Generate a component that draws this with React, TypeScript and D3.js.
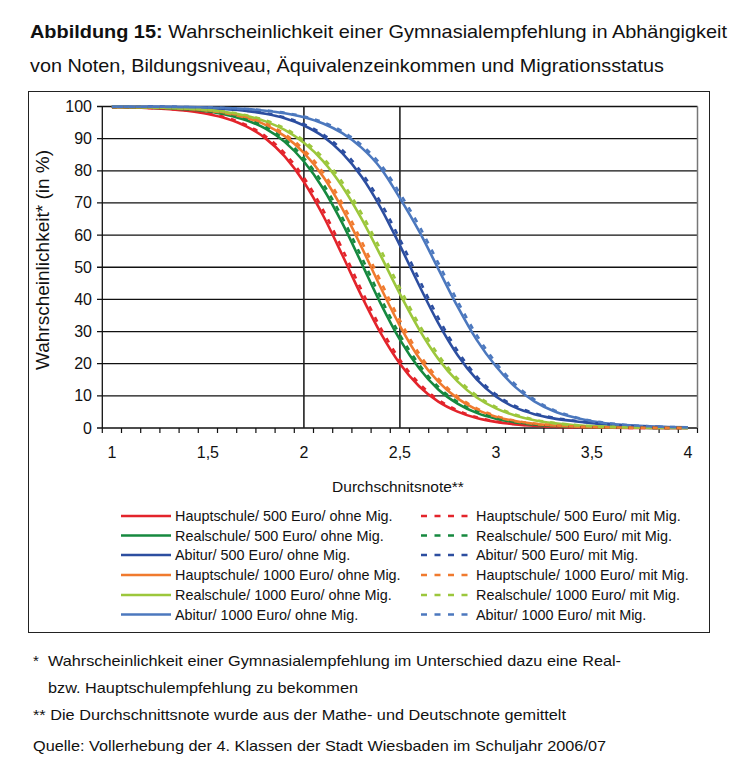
import React from 'react';
import * as d3 from 'd3';

const grades = [1.0, 1.1, 1.2, 1.3, 1.4, 1.5, 1.6, 1.7, 1.8, 1.9, 2.0, 2.1, 2.2, 2.3, 2.4, 2.5, 2.6, 2.7, 2.8, 2.9, 3.0, 3.1, 3.2, 3.3, 3.4, 3.5, 3.6, 3.7, 3.8, 3.9, 4.0];

const hs500Ohne = [99.82, 99.7, 99.49, 99.16, 98.61, 97.69, 96.2, 93.82, 90.09, 84.46, 76.5, 66.1, 53.8, 41.1, 29.5, 20.0, 13.0, 8.2, 5.1, 3.1, 1.9, 1.14, 0.69, 0.41, 0.25, 0.15, 0.09, 0.05, 0.03, 0.02, 0.01];
const rs500Ohne = [99.87, 99.79, 99.65, 99.42, 99.05, 98.42, 97.39, 95.73, 93.09, 89.0, 82.9, 74.5, 63.7, 51.3, 38.7, 27.5, 18.6, 12.0, 7.6, 4.7, 2.9, 1.75, 1.06, 0.64, 0.38, 0.23, 0.14, 0.08, 0.05, 0.03, 0.02];
const ab500Ohne = [99.96, 99.93, 99.89, 99.81, 99.69, 99.49, 99.16, 98.63, 97.76, 96.36, 94.1, 90.7, 85.5, 78.2, 68.5, 56.8, 44.4, 32.6, 22.7, 15.1, 9.8, 6.4, 4.3, 3.0, 2.2, 1.5, 1.0, 0.6, 0.4, 0.2, 0.1];
const hs1000Ohne = [99.9, 99.83, 99.72, 99.53, 99.22, 98.71, 97.87, 96.5, 94.3, 90.8, 85.6, 78.2, 68.2, 56.3, 43.7, 31.8, 21.8, 14.4, 9.2, 5.7, 3.5, 2.14, 1.29, 0.78, 0.47, 0.28, 0.17, 0.1, 0.06, 0.04, 0.02];
const rs1000Ohne = [99.9, 99.83, 99.73, 99.56, 99.29, 98.86, 98.17, 97.08, 95.37, 92.71, 88.7, 83.0, 75.1, 65.1, 53.6, 41.7, 30.7, 21.5, 14.5, 9.5, 6.1, 3.9, 2.42, 1.51, 0.94, 0.58, 0.36, 0.22, 0.14, 0.09, 0.05];
const ab1000Ohne = [99.97, 99.95, 99.93, 99.88, 99.81, 99.69, 99.49, 99.18, 98.69, 97.9, 96.65, 94.7, 91.7, 87.2, 80.8, 71.5, 61.2, 49.5, 37.8, 27.4, 19.2, 12.8, 8.3, 5.3, 3.4, 2.1, 1.31, 0.82, 0.5, 0.31, 0.19];

const hs500Mit = [99.83, 99.72, 99.53, 99.22, 98.71, 97.86, 96.47, 94.25, 90.76, 85.44, 77.85, 67.8, 55.7, 42.9, 31.1, 21.2, 13.9, 8.8, 5.46, 3.33, 2.04, 1.23, 0.74, 0.44, 0.27, 0.16, 0.1, 0.05, 0.03, 0.02, 0.01];
const rs500Mit = [99.88, 99.81, 99.68, 99.46, 99.12, 98.54, 97.58, 96.04, 93.57, 89.73, 83.96, 75.92, 65.43, 53.2, 40.5, 28.95, 19.74, 12.79, 8.13, 5.04, 3.11, 1.88, 1.14, 0.69, 0.41, 0.25, 0.15, 0.09, 0.05, 0.03, 0.02];
const ab500Mit = [99.96, 99.94, 99.9, 99.83, 99.71, 99.53, 99.22, 98.73, 97.92, 96.62, 94.5, 91.33, 86.43, 79.48, 70.12, 58.67, 46.26, 34.25, 24.02, 16.06, 10.46, 6.84, 4.6, 3.2, 2.35, 1.6, 1.07, 0.65, 0.43, 0.22, 0.11];
const hs1000Mit = [99.91, 99.84, 99.74, 99.57, 99.28, 98.81, 98.03, 96.75, 94.7, 91.43, 86.52, 79.48, 69.83, 58.14, 45.55, 33.45, 23.1, 15.34, 9.84, 6.11, 3.76, 2.3, 1.39, 0.84, 0.51, 0.3, 0.18, 0.11, 0.06, 0.04, 0.02];
const rs1000Mit = [99.91, 99.84, 99.75, 99.59, 99.34, 98.94, 98.3, 97.28, 95.69, 93.2, 89.42, 84.02, 76.45, 66.74, 55.4, 43.5, 32.23, 22.74, 15.4, 10.12, 6.51, 4.17, 2.59, 1.62, 1.0, 0.62, 0.38, 0.24, 0.15, 0.1, 0.05];
const ab1000Mit = [99.97, 99.95, 99.93, 99.89, 99.82, 99.71, 99.53, 99.24, 98.78, 98.05, 96.88, 95.07, 92.25, 88.0, 81.92, 73.0, 62.9, 51.3, 39.5, 28.9, 20.3, 13.6, 8.85, 5.65, 3.63, 2.24, 1.4, 0.88, 0.53, 0.33, 0.2];

const leftLabels = [
  'Hauptschule/ 500 Euro/ ohne Mig.',
  'Realschule/ 500 Euro/ ohne Mig.',
  'Abitur/ 500 Euro/ ohne Mig.',
  'Hauptschule/ 1000 Euro/ ohne Mig.',
  'Realschule/ 1000 Euro/ ohne Mig.',
  'Abitur/ 1000 Euro/ ohne Mig.',
];
const rightLabels = [
  'Hauptschule/ 500 Euro/ mit Mig.',
  'Realschule/ 500 Euro/ mit Mig.',
  'Abitur/ 500 Euro/ mit Mig.',
  'Hauptschule/ 1000 Euro/ mit Mig.',
  'Realschule/ 1000 Euro/ mit Mig.',
  'Abitur/ 1000 Euro/ mit Mig.',
];
const colors = ['#e3242b', '#16893f', '#2c4ea0', '#f07a2e', '#9cc73c', '#4c78be'];

const ohneSeries = [hs500Ohne, rs500Ohne, ab500Ohne, hs1000Ohne, rs1000Ohne, ab1000Ohne];
const mitSeries = [hs500Mit, rs500Mit, ab500Mit, hs1000Mit, rs1000Mit, ab1000Mit];

const xTickValues = [1, 1.5, 2, 2.5, 3, 3.5, 4];
const yTickValues = [0, 10, 20, 30, 40, 50, 60, 70, 80, 90, 100];
const refLines = [2, 2.5];

const FONT = '"Liberation Sans", Arial, Helvetica, sans-serif';

export default function App() {
  const x = d3.scaleLinear().domain([0.95, 4.05]).range([102.3, 697.5]);
  const y = d3.scaleLinear().domain([0, 100]).range([428, 106.5]);
  const line = d3
    .line<number>()
    .x((_, i) => x(grades[i]))
    .y((d) => y(d))
    .curve(d3.curveMonotoneX);
  const minorTicks = d3.range(0, 32).map((i) => 0.95 + i * 0.1);
  const fmt = (v: number) => String(v).replace('.', ',');
  const legendY = [516, 535.5, 555, 575, 595, 614.5];

  return (
    <svg
      width={742}
      height={763}
      style={{ position: 'absolute', left: 0, top: 0, background: '#fff' }}
      fontFamily={FONT}
    >
      <rect x={0} y={0} width={742} height={763} fill="#fff" />
      {/* Title */}
      <text x={30} y={38} fontSize={18.5} fill="#111" textLength={697} lengthAdjust="spacingAndGlyphs">
        <tspan fontWeight="bold">Abbildung 15:</tspan>
        <tspan> Wahrscheinlichkeit einer Gymnasialempfehlung in Abhängigkeit</tspan>
      </text>
      <text x={30} y={72} fontSize={18.5} fill="#111" textLength={634} lengthAdjust="spacingAndGlyphs">
        von Noten, Bildungsniveau, Äquivalenzeinkommen und Migrationsstatus
      </text>

      {/* Outer frame */}
      <rect x={28.5} y={91.5} width={681} height={541} fill="none" stroke="#222" strokeWidth={1} />

      {/* Gridlines */}
      {yTickValues.map((v) => (
        <line key={'g' + v} x1={97} x2={697.5} y1={y(v)} y2={y(v)} stroke="#111" strokeWidth={1.3} />
      ))}
      {/* Right border */}
      <line x1={697.5} x2={697.5} y1={y(100)} y2={y(0)} stroke="#777" strokeWidth={1.5} />
      {/* Reference vertical lines */}
      {refLines.map((v) => (
        <line key={'r' + v} x1={x(v)} x2={x(v)} y1={y(100)} y2={y(0)} stroke="#222" strokeWidth={1.6} />
      ))}
      {/* Axis lines */}
      <line x1={x(0.95)} x2={x(0.95)} y1={y(100)} y2={y(0)} stroke="#111" strokeWidth={1.3} />
      {minorTicks.map((v, i) => (
        <line key={'t' + i} x1={x(v)} x2={x(v)} y1={y(0)} y2={y(0) + 5} stroke="#111" strokeWidth={1.2} />
      ))}

      {/* Curves */}
      {ohneSeries.map((s, i) => (
        <path key={'o' + i} d={line(s) || ''} fill="none" stroke={colors[i]} strokeWidth={2.6} strokeLinejoin="round" />
      ))}
      {mitSeries.map((s, i) => (
        <path
          key={'m' + i}
          d={line(s) || ''}
          fill="none"
          stroke={colors[i]}
          strokeWidth={2.6}
          strokeDasharray="5,7"
        />
      ))}

      {/* Y tick labels */}
      {yTickValues.map((v) => (
        <text key={'yl' + v} x={92} y={y(v) + 5.5} fontSize={16} textAnchor="end" fill="#111">
          {v}
        </text>
      ))}
      {/* X tick labels */}
      {xTickValues.map((v) => (
        <text key={'xl' + v} x={x(v)} y={458} fontSize={16} textAnchor="middle" fill="#111">
          {fmt(v)}
        </text>
      ))}
      <text x={398} y={492} fontSize={15.5} textAnchor="middle" fill="#111">
        Durchschnitsnote**
      </text>
      <text
        transform={`translate(49,${260}) rotate(-90)`}
        fontSize={17.5}
        textAnchor="middle"
        fill="#111"
        textLength={220}
        lengthAdjust="spacingAndGlyphs"
      >
        Wahrscheinlichkeit* (in %)
      </text>

      {/* Legend */}
      {leftLabels.map((lab, i) => (
        <g key={'ll' + i}>
          <line x1={121} x2={171} y1={legendY[i]} y2={legendY[i]} stroke={colors[i]} strokeWidth={2.6} />
          <text x={175} y={legendY[i] + 5} fontSize={14.4} fill="#111">
            {lab}
          </text>
        </g>
      ))}
      {rightLabels.map((lab, i) => (
        <g key={'rl' + i}>
          <line
            x1={421}
            x2={469}
            y1={legendY[i]}
            y2={legendY[i]}
            stroke={colors[i]}
            strokeWidth={2.6}
            strokeDasharray="6,7.5"
          />
          <text x={476} y={legendY[i] + 5} fontSize={14.4} fill="#111">
            {lab}
          </text>
        </g>
      ))}

      {/* Footnotes */}
      <text x={33} y={666} fontSize={15} fill="#111">*</text>
      <text x={48} y={666} fontSize={15} fill="#111" textLength={573} lengthAdjust="spacingAndGlyphs">
        Wahrscheinlichkeit einer Gymnasialempfehlung im Unterschied dazu eine Real-
      </text>
      <text x={48} y={693} fontSize={15} fill="#111" textLength={310} lengthAdjust="spacingAndGlyphs">
        bzw. Hauptschulempfehlung zu bekommen
      </text>
      <text x={33} y={720} fontSize={15} fill="#111" textLength={533} lengthAdjust="spacingAndGlyphs">
        ** Die Durchschnittsnote wurde aus der Mathe- und Deutschnote gemittelt
      </text>
      <text x={33} y={751} fontSize={15} fill="#111" textLength={573} lengthAdjust="spacingAndGlyphs">
        Quelle: Vollerhebung der 4. Klassen der Stadt Wiesbaden im Schuljahr 2006/07
      </text>
    </svg>
  );
}
